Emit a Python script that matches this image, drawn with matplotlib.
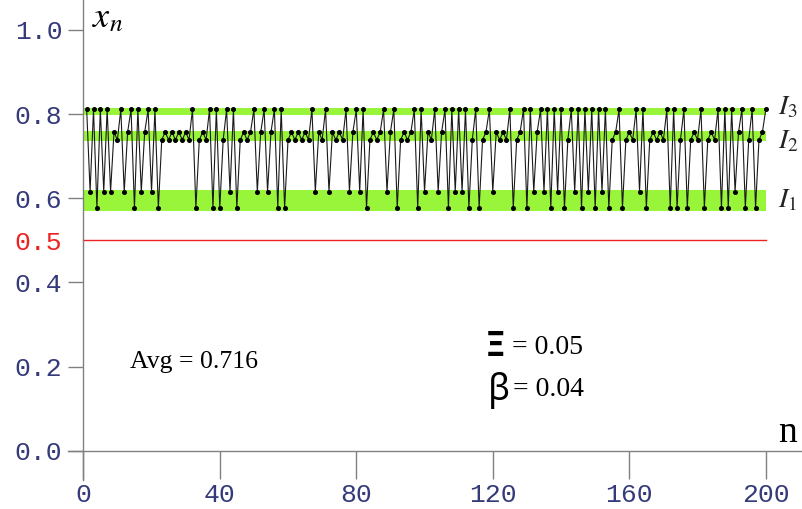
import numpy as np
import matplotlib.pyplot as plt

# orbit x_n for n = 1..200
n = np.arange(1, 201)
xn = [0.811, 0.616, 0.811, 0.577, 0.811, 0.616, 0.811, 0.616, 0.757, 0.739,
      0.811, 0.616, 0.757, 0.811, 0.577, 0.811, 0.616, 0.757, 0.811, 0.616,
      0.811, 0.577, 0.739, 0.757, 0.739, 0.757, 0.739, 0.757, 0.739, 0.757,
      0.739, 0.811, 0.577, 0.739, 0.757, 0.739, 0.811, 0.577, 0.811, 0.577,
      0.739, 0.811, 0.616, 0.811, 0.577, 0.739, 0.757, 0.739, 0.757, 0.811,
      0.616, 0.757, 0.811, 0.616, 0.757, 0.811, 0.577, 0.811, 0.577, 0.739,
      0.757, 0.739, 0.757, 0.739, 0.757, 0.739, 0.811, 0.616, 0.757, 0.739,
      0.811, 0.616, 0.757, 0.739, 0.757, 0.739, 0.811, 0.616, 0.757, 0.811,
      0.616, 0.811, 0.577, 0.739, 0.757, 0.739, 0.757, 0.811, 0.616, 0.757,
      0.811, 0.577, 0.739, 0.757, 0.739, 0.757, 0.811, 0.577, 0.811, 0.616,
      0.757, 0.739, 0.811, 0.616, 0.757, 0.811, 0.577, 0.811, 0.616, 0.811,
      0.616, 0.811, 0.577, 0.739, 0.811, 0.577, 0.739, 0.757, 0.811, 0.616,
      0.757, 0.739, 0.757, 0.739, 0.811, 0.577, 0.739, 0.757, 0.811, 0.577,
      0.811, 0.616, 0.757, 0.811, 0.616, 0.811, 0.577, 0.811, 0.616, 0.811,
      0.577, 0.739, 0.811, 0.616, 0.811, 0.577, 0.811, 0.616, 0.811, 0.577,
      0.811, 0.616, 0.811, 0.577, 0.739, 0.757, 0.811, 0.577, 0.739, 0.757,
      0.739, 0.811, 0.616, 0.811, 0.577, 0.739, 0.757, 0.739, 0.757, 0.739,
      0.811, 0.577, 0.811, 0.577, 0.739, 0.811, 0.577, 0.739, 0.757, 0.739,
      0.811, 0.577, 0.739, 0.757, 0.739, 0.811, 0.577, 0.811, 0.577, 0.811,
      0.616, 0.757, 0.811, 0.577, 0.739, 0.811, 0.577, 0.739, 0.757, 0.811]

# intervals I1, I2, I3
band_names = ['$I_1$', '$I_2$', '$I_3$']
band_lo = [0.571, 0.735, 0.798]
band_hi = [0.620, 0.760, 0.814]
band_label_y = [0.597, 0.737, 0.818]

threshold = 0.5
avg_text = 'Avg = 0.716'
xi_val = '0.05'
beta_val = '0.04'

xticks = [0, 40, 80, 120, 160, 200]
yticks = [0.0, 0.2, 0.4, 0.5, 0.6, 0.8, 1.0]

plt.rcParams['mathtext.fontset'] = 'stix'

fig = plt.figure(figsize=(8.03, 5.09), dpi=100)
ax = fig.add_axes([0, 0, 1, 1])
ax.set_xlim(-24.4, 210.9)
ax.set_ylim(-0.138, 1.071)

green = '#99f53a'
for lo, hi in zip(band_lo, band_hi):
    ax.fill_between([0, 200], lo, hi, color=green, lw=0, zorder=1)
for name, y in zip(band_names, band_label_y):
    ax.text(203.6, y, name, fontsize=20, ha='left', va='center', color='#222222')

ax.plot([0, 200], [threshold, threshold], color='#ee2222', lw=1.0, zorder=2)

ax.plot(n, xn, color='#1a1a1a', lw=0.8, marker='o', ms=2.6, mfc='black',
        mec='black', zorder=3)

# axes through the origin
for s in ['top', 'right']:
    ax.spines[s].set_visible(False)
ax.spines['left'].set_position(('data', 0))
ax.spines['bottom'].set_position(('data', 0))
ax.spines['left'].set_bounds(-0.068, 1.071)
ax.spines['bottom'].set_bounds(-4.4, 210.9)
for s in ['left', 'bottom']:
    ax.spines[s].set_color('#808080')
    ax.spines[s].set_linewidth(1.0)

mono = 'Liberation Mono'
navy = '#343a7a'
ax.set_xticks(xticks)
ax.set_xticklabels([str(v) for v in xticks], fontfamily=mono, fontsize=19, color=navy)
ax.set_yticks(yticks)
ax.set_yticklabels(['%.1f' % v for v in yticks], fontfamily=mono, fontsize=19, color=navy)
ax.get_yticklabels()[3].set_color('#ee2222')
ax.tick_params(axis='x', direction='out', length=20, width=1.0, color='#808080', pad=3)
ax.tick_params(axis='y', direction='out', length=11, width=1.0, color='#808080', pad=4)
ax.yaxis.get_major_ticks()[3].tick1line.set_visible(False)

ax.text(2.6, 1.03, '$x_n$', fontsize=26, ha='left', va='center')
ax.text(206.3, 0.043, 'n', fontsize=27, fontfamily='Liberation Serif', ha='center', va='center')

ax.text(13.7, 0.211, avg_text, fontsize=18.5, fontfamily='Liberation Serif', ha='left', va='center')
ax.text(117.6, 0.247, '\u039e', fontsize=24, fontfamily='DejaVu Sans', fontweight='bold',
        ha='left', va='center')
ax.text(125.6, 0.245, '= ' + xi_val, fontsize=20, fontfamily='Liberation Serif', ha='left', va='center')
ax.text(118.6, 0.143, '\u03b2', fontsize=26, fontfamily='Noto Sans', fontweight='semibold',
        ha='left', va='center')
ax.text(126.0, 0.145, '= ' + beta_val, fontsize=20, fontfamily='Liberation Serif', ha='left', va='center')

fig.savefig('out.png', dpi=100)
